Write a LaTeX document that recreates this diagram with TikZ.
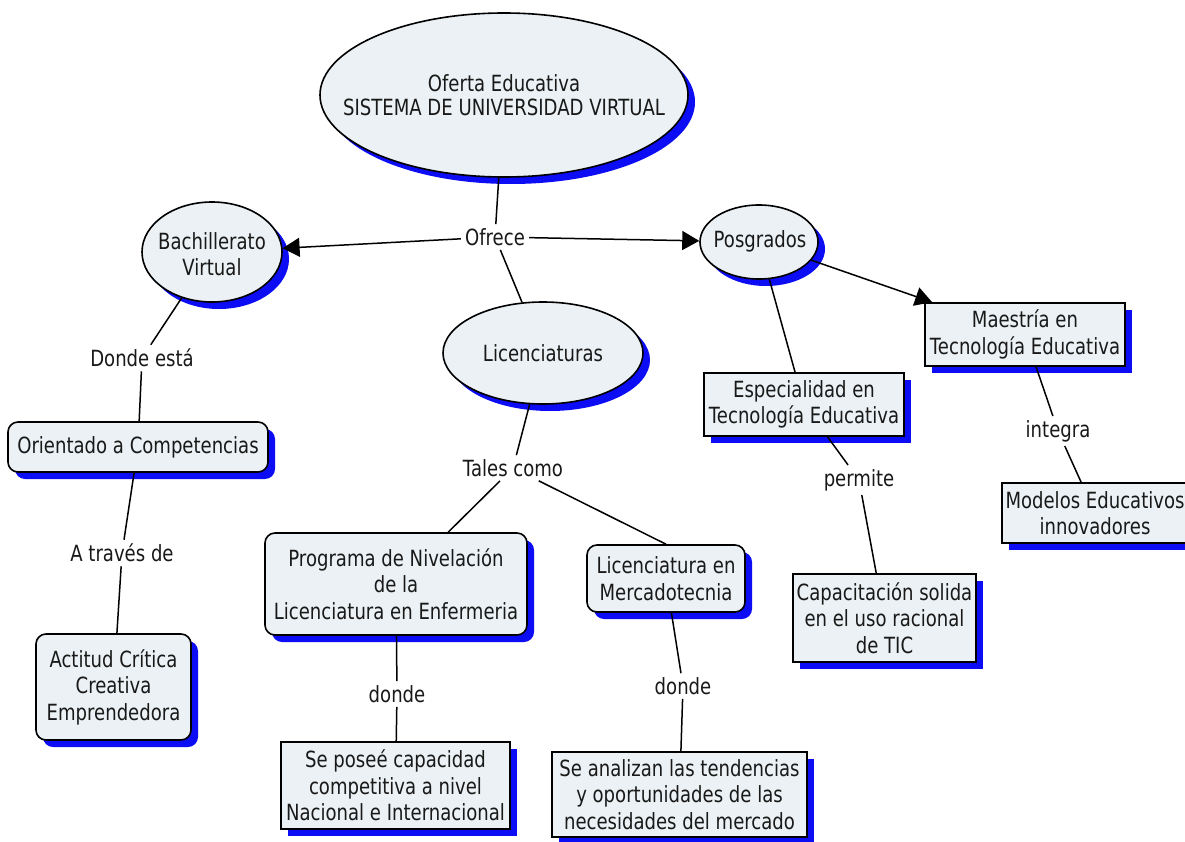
\documentclass[tikz,border=0pt]{standalone}
\usepackage{fontspec}
\setmainfont{DejaVu Sans}[FakeStretch=0.81]
\usetikzlibrary{shapes.geometric,shadows,arrows.meta}
\definecolor{nodefill}{RGB}{235,241,244}
\definecolor{shadowblue}{RGB}{12,12,245}
\definecolor{ink}{RGB}{25,25,25}
\begin{document}
\begin{tikzpicture}[x=1pt,y=-1pt,
  every node/.style={font=\fontsize{22.3}{26.5}\selectfont, text=ink},
  blueshadow/.style={drop shadow={shadow xshift=7pt,shadow yshift=-7pt,fill=shadowblue,opacity=1}},
  bubble/.style={ellipse, draw=black, line width=1.6pt, fill=nodefill, inner sep=0pt, blueshadow},
  cbox/.style={rectangle, draw=black, line width=1.6pt, fill=nodefill, inner sep=0pt, align=center, blueshadow},
  rbox/.style={cbox, rounded corners=10pt},
  btext/.style={align=center, inner sep=0pt},
  link/.style={align=center, inner sep=4pt},
  conn/.style={line width=1.5pt, draw=black},
  arr/.style={conn, -{Triangle[length=17pt,width=19pt]}},
]
\path[fill=white] (0,0) rectangle (1185,842);
\useasboundingbox (0,0) rectangle (1185,842);

% central concept and its three branches
\node[bubble, minimum width=368pt, minimum height=164pt] (sys) at (504,95) {};
\node[btext, font=\fontsize{22.3}{24.5}\selectfont] (sysT) at (sys.center) {Oferta Educativa\\SISTEMA DE UNIVERSIDAD VIRTUAL};
\node[link] (ofrece) at (495,237) {Ofrece};

\node[bubble, minimum width=140pt, minimum height=100pt] (bach) at (212,252) {};
\node[btext] (bachT) at (212,254) {Bachillerato\\Virtual};

\node[bubble, minimum width=118pt, minimum height=74pt] (posg) at (759,242) {};
\node[btext] (posgT) at (760,241) {Posgrados};

\node[bubble, minimum width=200pt, minimum height=102pt] (lic) at (543,353) {};
\node[btext] (licT) at (lic.center) {Licenciaturas};

% Bachillerato branch
\node[link] (donde1) at (142,358) {Donde está};
\node[rbox, minimum width=260pt, minimum height=50pt] (orient) at (138,447) {Orientado a Competencias};
\node[link] (atraves) at (122,553) {A través de};
\node[rbox, minimum width=155pt, minimum height=106pt] (actitud) at (113.5,687) {Actitud Crítica\\Creativa\\Emprendedora};

% Licenciaturas branch
\node[link] (tales) at (513,468) {Tales como};
\node[rbox, minimum width=262pt, minimum height=102pt] (prog) at (396,584) {Programa de Nivelación\\de la\\Licenciatura en Enfermeria};
\node[rbox, minimum width=158pt, minimum height=67pt] (merc) at (666,578.5) {Licenciatura en\\Mercadotecnia};
\node[link] (donde2) at (397,694) {donde};
\node[link] (donde3) at (683,686) {donde};
\node[cbox, minimum width=229pt, minimum height=87pt] (seposee) at (395.5,785.5) {Se poseé capacidad\\competitiva a nivel\\Nacional e Internacional};
\node[cbox, minimum width=255pt, minimum height=85pt] (analizan) at (679.5,794.5) {Se analizan las tendencias\\y oportunidades de las\\necesidades del mercado};

% Posgrados branch
\node[cbox, minimum width=200pt, minimum height=63pt] (esp) at (804,404.5) {Especialidad en\\Tecnología Educativa};
\node[link] (permite) at (859,480) {permite};
\node[cbox, minimum width=183pt, minimum height=88pt] (capac) at (884.5,618) {Capacitación solida\\en el uso racional\\de TIC};
\node[cbox, minimum width=200pt, minimum height=63pt] (maes) at (1025,334.5) {Maestría en\\Tecnología Educativa};
\node[link] (integra) at (1058,431) {integra};
\node[cbox, minimum width=186pt, minimum height=60pt] (model) at (1095,513) {Modelos Educativos\\innovadores};

% connectors
\draw[conn] (sys) -- (ofrece);
\draw[arr] (ofrece) -- (bach);
\draw[arr] (ofrece) -- (posg);
\draw[conn] (ofrece) -- (lic);
\draw[conn] (bach) -- (donde1);
\draw[conn] (donde1) -- (orient);
\draw[conn] (orient) -- (atraves);
\draw[conn] (atraves) -- (actitud);
\draw[conn] (lic) -- (tales);
\draw[conn] (tales) -- (prog);
\draw[conn] (tales) -- (merc.north);
\draw[conn] (prog) -- (donde2);
\draw[conn] (donde2) -- (seposee);
\draw[conn] (merc) -- (donde3);
\draw[conn] (donde3) -- (analizan);
\draw[arr] (posg) -- (maes);
\draw[conn] (posg) -- (esp);
\draw[conn] (esp) -- (permite);
\draw[conn] (permite) -- (capac);
\draw[conn] (maes) -- (integra);
\draw[conn] (integra) -- (model);
\end{tikzpicture}
\end{document}
